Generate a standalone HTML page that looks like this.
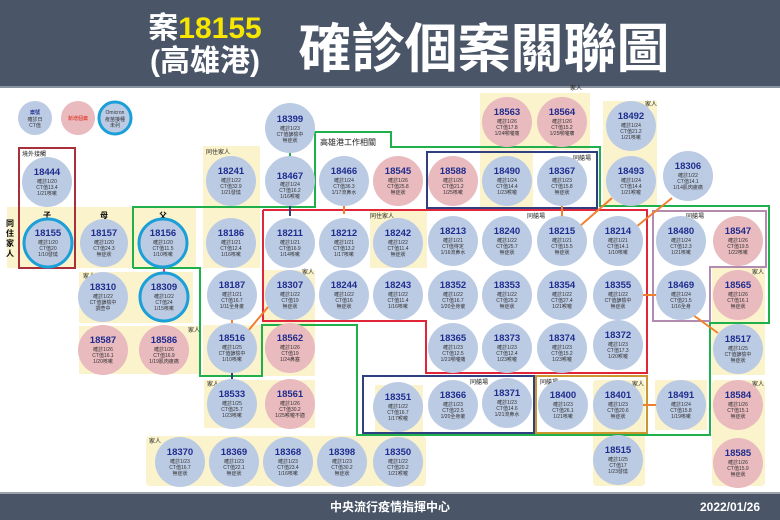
<!DOCTYPE html>
<html><head><meta charset="utf-8"><style>
body{margin:0;width:780px;height:520px;overflow:hidden;background:#fff;font-family:"Liberation Sans","Noto Sans CJK TC",sans-serif}
svg{display:block}
text{text-anchor:middle;font-family:"Liberation Sans","Noto Sans CJK TC",sans-serif}
.n{font-size:9.5px;font-weight:bold;fill:#1f2d8f}
.s{font-size:5px;fill:#333}
.b{fill:#bccbe4}.p{fill:#e9babe}.r{fill:#bccbe4;stroke:#1a9fd8;stroke-width:3}
.bg{fill:#fbf3cb}
.l{font-size:6px;fill:#222;text-anchor:start}
</style></head><body>
<svg width="780" height="520" viewBox="0 0 780 520">
<rect x="0" y="0" width="780" height="86" fill="#4a5668"/>
<rect x="0" y="86" width="780" height="2" fill="#8a93a0"/>
<text x="205" y="38" style="font-size:30px;font-weight:bold;fill:#fff">案<tspan fill="#f6e600">18155</tspan></text>
<text x="205" y="71" style="font-size:30px;font-weight:bold;fill:#fff">(高雄港)</text>
<text x="484" y="67" style="font-size:53px;font-weight:bold;fill:#fff">確診個案關聯圖</text>
<rect x="0" y="493" width="780" height="27" fill="#4a5668"/>
<rect x="0" y="492" width="780" height="2" fill="#9aa2ad"/>
<text x="390" y="511" style="font-size:12px;font-weight:bold;fill:#fff">中央流行疫情指揮中心</text>
<text x="730" y="511" style="font-size:12px;font-weight:bold;fill:#fff">2022/01/26</text>

<!-- beige backgrounds -->
<rect class="bg" x="7" y="207" width="189" height="61"/>
<rect class="bg" x="203" y="146" width="57" height="122"/>
<rect class="bg" x="79" y="272" width="114" height="51"/>
<rect class="bg" x="79" y="326" width="121" height="48"/>
<rect class="bg" x="203" y="325" width="59" height="51"/>
<rect class="bg" x="262" y="270" width="53" height="106"/>
<rect class="bg" x="204" y="380" width="111" height="48"/>
<rect class="bg" x="146" y="436" width="280" height="50" rx="4"/>
<rect class="bg" x="480" y="93" width="110" height="57"/>
<rect class="bg" x="480" y="150" width="53" height="57"/>
<rect class="bg" x="603" y="101" width="54" height="106"/>
<rect class="bg" x="370" y="211" width="57" height="57"/>
<rect class="bg" x="712" y="267" width="53" height="108"/>
<rect class="bg" x="712" y="380" width="53" height="106" rx="4"/>
<rect class="bg" x="593" y="380" width="52" height="106" rx="4"/>
<rect class="bg" x="655" y="380" width="52" height="50"/>
<rect class="bg" x="375" y="385" width="48" height="101"/>

<!-- lines / boxes -->
<g fill="none" stroke-width="2">
<polyline stroke="#1fb04b" points="133,268 133,207 315,207 315,132 391,132 391,147 600,147 600,206 769,206 769,323 710,323 710,435 357,435 357,325 262,325 262,376 200,376 200,268 133,268"/>
<polyline stroke="#e2263a" points="263,210 647,210 647,373 426,373 426,321 263,321 263,210"/>
<rect stroke="#2f3f80" x="427" y="152" width="170" height="56"/>
<rect stroke="#2f3f80" x="363" y="376" width="171" height="57"/>
<rect stroke="#c9962f" x="536" y="376" width="111" height="57"/>
<polygon stroke="#b48bb0" points="653,211 766,211 766,267 710,267 710,321 653,321"/>
<rect stroke="#a8303a" x="19" y="148" width="56" height="120"/>
</g>
<g stroke-width="2">
<line stroke="#f08030" x1="562" y1="206" x2="562" y2="218"/>
<line stroke="#f08030" x1="580" y1="226" x2="612" y2="198"/>
<line stroke="#f08030" x1="636" y1="227" x2="672" y2="198"/>
<line stroke="#f08030" x1="643" y1="295" x2="656" y2="295"/>
<line stroke="#f08030" x1="693" y1="315" x2="718" y2="333"/>
<line stroke="#f08030" x1="643" y1="405" x2="656" y2="405"/>
<line stroke="#f08030" x1="232" y1="320" x2="232" y2="325"/>
<line stroke="#f08030" x1="248" y1="331" x2="268" y2="307"/>
<line stroke="#f08030" x1="344" y1="206" x2="344" y2="214"/>
<line stroke="#2f3f80" x1="290" y1="206" x2="290" y2="216"/>
<line stroke="#e0308a" x1="164" y1="266" x2="164" y2="272"/>
<line stroke="#1fb04b" x1="290" y1="153" x2="290" y2="157"/>
<line stroke="#2f3f80" x1="232" y1="373" x2="232" y2="380"/>
</g>

<!-- legend -->
<circle cx="35" cy="118" r="17" class="b"/><text x="35" y="114" class="s" style="fill:#1f2d8f;font-weight:bold">案號</text><text x="35" y="121" class="s">確診日</text><text x="35" y="127" class="s">CT值</text>
<circle cx="78" cy="118" r="17" class="p"/><text x="78" y="120" class="s" style="fill:#d21">新增個案</text>
<circle cx="115" cy="118" r="16" class="r"/><text x="115" y="114" class="s">Omicron</text><text x="115" y="121" class="s">疫苗接種</text><text x="115" y="127" class="s">未列</text>

<!-- labels -->
<text class="l" x="22" y="156">境外接觸</text>
<text class="l" x="206" y="154">同住家人</text>
<text class="l" x="320" y="145" style="font-size:8px">高雄港工作相關</text>
<text x="47" y="218" style="font-size:8px;font-weight:bold">子</text>
<text x="104" y="218" style="font-size:8px;font-weight:bold">母</text>
<text x="163" y="218" style="font-size:8px;font-weight:bold">父</text>
<text x="290" y="164" style="font-size:7px;font-weight:bold">哥</text>
<text x="10" y="226" style="font-size:8px;font-weight:bold">同</text><text x="10" y="236" style="font-size:8px;font-weight:bold">住</text><text x="10" y="246" style="font-size:8px;font-weight:bold">家</text><text x="10" y="256" style="font-size:8px;font-weight:bold">人</text>
<text class="l" x="573" y="160">同艙場</text><text class="l" x="527" y="218">同艙場</text><text class="l" x="686" y="218">同艙場</text>
<text class="l" x="370" y="218">同住家人</text><text class="l" x="570" y="90">家人</text><text class="l" x="645" y="106">家人</text>
<text class="l" x="83" y="278">家人</text><text class="l" x="188" y="332">家人</text><text class="l" x="302" y="274">家人</text>
<text class="l" x="207" y="386">家人</text><text class="l" x="149" y="443">家人</text><text class="l" x="755" y="453" style="font-size:5px"> </text>
<text class="l" x="470" y="384">同艙場</text><text class="l" x="540" y="384">同艙場</text><text class="l" x="632" y="386">家人</text>
<text class="l" x="752" y="386">家人</text><text class="l" x="752" y="274">家人</text>

<!-- nodes -->
<g class="nodes">
<g transform="translate(290,128)"><circle r="25" class="b"/><text y="-6" class="n">18399</text><text y="2" class="s">確診1/23</text><text y="8" class="s">CT值篩檢中</text><text y="14" class="s">無症狀</text></g>
<g transform="translate(507,122)"><circle r="25" class="p"/><text y="-7" class="n">18563</text><text y="1" class="s">確診1/26</text><text y="7" class="s">CT值17.8</text><text y="13" class="s">1/24喉嚨痛</text></g>
<g transform="translate(562,122)"><circle r="25" class="p"/><text y="-7" class="n">18564</text><text y="1" class="s">確診1/26</text><text y="7" class="s">CT值15.2</text><text y="13" class="s">1/25喉嚨癢</text></g>
<g transform="translate(631,126)"><circle r="25" class="b"/><text y="-7" class="n">18492</text><text y="1" class="s">確診1/24</text><text y="7" class="s">CT值21.2</text><text y="13" class="s">1/21咳嗽</text></g>
<g transform="translate(47,182)"><circle r="25" class="b"/><text y="-7" class="n">18444</text><text y="1" class="s">確診1/20</text><text y="7" class="s">CT值13.4</text><text y="13" class="s">1/21咳嗽</text></g>
<g transform="translate(231,181)"><circle r="25" class="b"/><text y="-7" class="n">18241</text><text y="1" class="s">確診1/22</text><text y="7" class="s">CT值32.9</text><text y="13" class="s">1/21發燒</text></g>
<g transform="translate(290,181)"><circle r="25" class="b"/><text y="-2" class="n">18467</text><text y="5" class="s">確診1/24</text><text y="11" class="s">CT值16.2</text><text y="17" class="s">1/16喉嚨</text></g>
<g transform="translate(344,181)"><circle r="25" class="b"/><text y="-7" class="n">18466</text><text y="1" class="s">確診1/24</text><text y="7" class="s">CT值36.3</text><text y="13" class="s">1/17流鼻水</text></g>
<g transform="translate(398,181)"><circle r="25" class="p"/><text y="-7" class="n">18545</text><text y="1" class="s">確診1/26</text><text y="7" class="s">CT值25.8</text><text y="13" class="s">無症狀</text></g>
<g transform="translate(453,181)"><circle r="25" class="p"/><text y="-7" class="n">18588</text><text y="1" class="s">確診1/26</text><text y="7" class="s">CT值21.2</text><text y="13" class="s">1/25咳嗽</text></g>
<g transform="translate(507,181)"><circle r="25" class="b"/><text y="-7" class="n">18490</text><text y="1" class="s">確診1/24</text><text y="7" class="s">CT值14.4</text><text y="13" class="s">1/23喉嚨</text></g>
<g transform="translate(562,181)"><circle r="25" class="b"/><text y="-7" class="n">18367</text><text y="1" class="s">確診1/23</text><text y="7" class="s">CT值15.8</text><text y="13" class="s">無症狀</text></g>
<g transform="translate(631,181)"><circle r="25" class="b"/><text y="-7" class="n">18493</text><text y="1" class="s">確診1/24</text><text y="7" class="s">CT值14.4</text><text y="13" class="s">1/21喉嚨</text></g>
<g transform="translate(688,176)"><circle r="25" class="b"/><text y="-7" class="n">18306</text><text y="1" class="s">確診1/22</text><text y="7" class="s">CT值14.1</text><text y="13" class="s">1/14肌肉痠痛</text></g>

<g transform="translate(48,243)"><circle r="24" class="r"/><text y="-7" class="n">18155</text><text y="1" class="s">確診1/20</text><text y="7" class="s">CT值20</text><text y="13" class="s">1/10發燒</text></g>
<g transform="translate(104,243)"><circle r="24" class="b"/><text y="-7" class="n">18157</text><text y="1" class="s">確診1/20</text><text y="7" class="s">CT值24.3</text><text y="13" class="s">無症狀</text></g>
<g transform="translate(163,243)"><circle r="24" class="r"/><text y="-7" class="n">18156</text><text y="1" class="s">確診1/20</text><text y="7" class="s">CT值11.5</text><text y="13" class="s">1/10咳嗽</text></g>
<g transform="translate(231,243)"><circle r="25" class="b"/><text y="-7" class="n">18186</text><text y="1" class="s">確診1/21</text><text y="7" class="s">CT值12.4</text><text y="13" class="s">1/16咳嗽</text></g>
<g transform="translate(290,243)"><circle r="25" class="b"/><text y="-7" class="n">18211</text><text y="1" class="s">確診1/21</text><text y="7" class="s">CT值16.9</text><text y="13" class="s">1/14咳嗽</text></g>
<g transform="translate(344,243)"><circle r="25" class="b"/><text y="-7" class="n">18212</text><text y="1" class="s">確診1/21</text><text y="7" class="s">CT值13.2</text><text y="13" class="s">1/17咳嗽</text></g>
<g transform="translate(398,243)"><circle r="25" class="b"/><text y="-7" class="n">18242</text><text y="1" class="s">確診1/22</text><text y="7" class="s">CT值11.4</text><text y="13" class="s">無症狀</text></g>
<g transform="translate(453,241)"><circle r="25" class="b"/><text y="-7" class="n">18213</text><text y="1" class="s">確診1/21</text><text y="7" class="s">CT值待定</text><text y="13" class="s">1/16流鼻水</text></g>
<g transform="translate(507,241)"><circle r="25" class="b"/><text y="-7" class="n">18240</text><text y="1" class="s">確診1/22</text><text y="7" class="s">CT值25.7</text><text y="13" class="s">無症狀</text></g>
<g transform="translate(562,241)"><circle r="25" class="b"/><text y="-7" class="n">18215</text><text y="1" class="s">確診1/21</text><text y="7" class="s">CT值15.5</text><text y="13" class="s">無症狀</text></g>
<g transform="translate(618,241)"><circle r="25" class="b"/><text y="-7" class="n">18214</text><text y="1" class="s">確診1/21</text><text y="7" class="s">CT值14.1</text><text y="13" class="s">1/10咳嗽</text></g>
<g transform="translate(681,241)"><circle r="25" class="b"/><text y="-7" class="n">18480</text><text y="1" class="s">確診1/24</text><text y="7" class="s">CT值12.3</text><text y="13" class="s">1/21咳嗽</text></g>
<g transform="translate(738,241)"><circle r="25" class="p"/><text y="-7" class="n">18547</text><text y="1" class="s">確診1/26</text><text y="7" class="s">CT值19.5</text><text y="13" class="s">1/22咳嗽</text></g>

<g transform="translate(103,297)"><circle r="25" class="b"/><text y="-7" class="n">18310</text><text y="1" class="s">確診1/22</text><text y="7" class="s">CT值篩檢中</text><text y="13" class="s">調查中</text></g>
<g transform="translate(164,297)"><circle r="24" class="r"/><text y="-7" class="n">18309</text><text y="1" class="s">確診1/22</text><text y="7" class="s">CT值24</text><text y="13" class="s">1/15咳嗽</text></g>
<g transform="translate(232,295)"><circle r="25" class="b"/><text y="-7" class="n">18187</text><text y="1" class="s">確診1/21</text><text y="7" class="s">CT值16.7</text><text y="13" class="s">1/11全身痠</text></g>
<g transform="translate(290,295)"><circle r="25" class="b"/><text y="-7" class="n">18307</text><text y="1" class="s">確診1/22</text><text y="7" class="s">CT值19</text><text y="13" class="s">無症狀</text></g>
<g transform="translate(344,295)"><circle r="25" class="b"/><text y="-7" class="n">18244</text><text y="1" class="s">確診1/22</text><text y="7" class="s">CT值16</text><text y="13" class="s">無症狀</text></g>
<g transform="translate(398,295)"><circle r="25" class="b"/><text y="-7" class="n">18243</text><text y="1" class="s">確診1/22</text><text y="7" class="s">CT值11.4</text><text y="13" class="s">1/16咳嗽</text></g>
<g transform="translate(453,295)"><circle r="25" class="b"/><text y="-7" class="n">18352</text><text y="1" class="s">確診1/22</text><text y="7" class="s">CT值16.7</text><text y="13" class="s">1/20全身痠</text></g>
<g transform="translate(507,295)"><circle r="25" class="b"/><text y="-7" class="n">18353</text><text y="1" class="s">確診1/22</text><text y="7" class="s">CT值25.2</text><text y="13" class="s">無症狀</text></g>
<g transform="translate(562,295)"><circle r="25" class="b"/><text y="-7" class="n">18354</text><text y="1" class="s">確診1/22</text><text y="7" class="s">CT值27.4</text><text y="13" class="s">1/21喉嚨</text></g>
<g transform="translate(618,295)"><circle r="25" class="b"/><text y="-7" class="n">18355</text><text y="1" class="s">確診1/22</text><text y="7" class="s">CT值篩檢中</text><text y="13" class="s">無症狀</text></g>
<g transform="translate(681,295)"><circle r="25" class="b"/><text y="-7" class="n">18469</text><text y="1" class="s">確診1/24</text><text y="7" class="s">CT值21.5</text><text y="13" class="s">1/16全身</text></g>
<g transform="translate(738,295)"><circle r="25" class="p"/><text y="-7" class="n">18565</text><text y="1" class="s">確診1/26</text><text y="7" class="s">CT值16.1</text><text y="13" class="s">無症狀</text></g>

<g transform="translate(103,350)"><circle r="25" class="p"/><text y="-7" class="n">18587</text><text y="1" class="s">確診1/26</text><text y="7" class="s">CT值16.1</text><text y="13" class="s">1/20咳嗽</text></g>
<g transform="translate(164,350)"><circle r="25" class="p"/><text y="-7" class="n">18586</text><text y="1" class="s">確診1/26</text><text y="7" class="s">CT值16.9</text><text y="13" class="s">1/19肌肉痠痛</text></g>
<g transform="translate(232,348)"><circle r="25" class="b"/><text y="-7" class="n">18516</text><text y="1" class="s">確診1/25</text><text y="7" class="s">CT值篩檢中</text><text y="13" class="s">1/10咳嗽</text></g>
<g transform="translate(290,348)"><circle r="25" class="p"/><text y="-7" class="n">18562</text><text y="1" class="s">確診1/26</text><text y="7" class="s">CT值19</text><text y="13" class="s">1/24鼻塞</text></g>
<g transform="translate(453,348)"><circle r="25" class="b"/><text y="-7" class="n">18365</text><text y="1" class="s">確診1/23</text><text y="7" class="s">CT值12.5</text><text y="13" class="s">1/21喉嚨痛</text></g>
<g transform="translate(507,348)"><circle r="25" class="b"/><text y="-7" class="n">18373</text><text y="1" class="s">確診1/23</text><text y="7" class="s">CT值12.4</text><text y="13" class="s">1/23喉嚨</text></g>
<g transform="translate(562,348)"><circle r="25" class="b"/><text y="-7" class="n">18374</text><text y="1" class="s">確診1/23</text><text y="7" class="s">CT值15.2</text><text y="13" class="s">1/23喉嚨</text></g>
<g transform="translate(618,345)"><circle r="25" class="b"/><text y="-7" class="n">18372</text><text y="1" class="s">確診1/23</text><text y="7" class="s">CT值17.3</text><text y="13" class="s">1/20喉嚨</text></g>
<g transform="translate(738,349)"><circle r="25" class="b"/><text y="-7" class="n">18517</text><text y="1" class="s">確診1/25</text><text y="7" class="s">CT值篩檢中</text><text y="13" class="s">無症狀</text></g>

<g transform="translate(232,404)"><circle r="25" class="b"/><text y="-7" class="n">18533</text><text y="1" class="s">確診1/25</text><text y="7" class="s">CT值25.7</text><text y="13" class="s">1/23咳嗽</text></g>
<g transform="translate(290,404)"><circle r="25" class="p"/><text y="-7" class="n">18561</text><text y="1" class="s">確診1/26</text><text y="7" class="s">CT值30.2</text><text y="13" class="s">1/25喉嚨不適</text></g>
<g transform="translate(398,407)"><circle r="25" class="b"/><text y="-7" class="n">18351</text><text y="1" class="s">確診1/22</text><text y="7" class="s">CT值16.7</text><text y="13" class="s">1/17喉嚨</text></g>
<g transform="translate(453,405)"><circle r="25" class="b"/><text y="-7" class="n">18366</text><text y="1" class="s">確診1/23</text><text y="7" class="s">CT值22.5</text><text y="13" class="s">1/20全身痠</text></g>
<g transform="translate(507,403)"><circle r="25" class="b"/><text y="-7" class="n">18371</text><text y="1" class="s">確診1/23</text><text y="7" class="s">CT值14.6</text><text y="13" class="s">1/21流鼻水</text></g>
<g transform="translate(563,405)"><circle r="25" class="b"/><text y="-7" class="n">18400</text><text y="1" class="s">確診1/23</text><text y="7" class="s">CT值26.1</text><text y="13" class="s">1/21咳嗽</text></g>
<g transform="translate(618,405)"><circle r="25" class="b"/><text y="-7" class="n">18401</text><text y="1" class="s">確診1/23</text><text y="7" class="s">CT值20.6</text><text y="13" class="s">無症狀</text></g>
<g transform="translate(681,405)"><circle r="25" class="b"/><text y="-7" class="n">18491</text><text y="1" class="s">確診1/24</text><text y="7" class="s">CT值15.8</text><text y="13" class="s">1/19咳嗽</text></g>
<g transform="translate(738,405)"><circle r="25" class="p"/><text y="-7" class="n">18584</text><text y="1" class="s">確診1/26</text><text y="7" class="s">CT值15.1</text><text y="13" class="s">無症狀</text></g>

<g transform="translate(180,462)"><circle r="25" class="b"/><text y="-7" class="n">18370</text><text y="1" class="s">確診1/23</text><text y="7" class="s">CT值16.7</text><text y="13" class="s">無症狀</text></g>
<g transform="translate(234,462)"><circle r="25" class="b"/><text y="-7" class="n">18369</text><text y="1" class="s">確診1/23</text><text y="7" class="s">CT值22.1</text><text y="13" class="s">無症狀</text></g>
<g transform="translate(288,462)"><circle r="25" class="b"/><text y="-7" class="n">18368</text><text y="1" class="s">確診1/23</text><text y="7" class="s">CT值23.4</text><text y="13" class="s">1/16咳嗽</text></g>
<g transform="translate(342,462)"><circle r="25" class="b"/><text y="-7" class="n">18398</text><text y="1" class="s">確診1/23</text><text y="7" class="s">CT值30.2</text><text y="13" class="s">無症狀</text></g>
<g transform="translate(398,462)"><circle r="25" class="b"/><text y="-7" class="n">18350</text><text y="1" class="s">確診1/22</text><text y="7" class="s">CT值20.2</text><text y="13" class="s">1/21喉嚨</text></g>
<g transform="translate(618,460)"><circle r="25" class="b"/><text y="-7" class="n">18515</text><text y="1" class="s">確診1/25</text><text y="7" class="s">CT值17</text><text y="13" class="s">1/23發燒</text></g>
<g transform="translate(738,463)"><circle r="25" class="p"/><text y="-7" class="n">18585</text><text y="1" class="s">確診1/26</text><text y="7" class="s">CT值15.9</text><text y="13" class="s">無症狀</text></g>
</g>
</svg>
</body></html>
